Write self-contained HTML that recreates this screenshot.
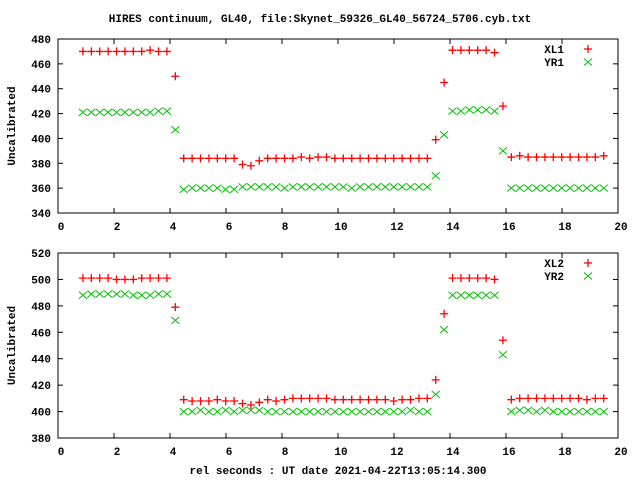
<!DOCTYPE html>
<html><head><meta charset="utf-8"><style>
html,body{margin:0;padding:0;background:#fff;}
svg text{font-family:"Liberation Mono",monospace;font-weight:bold;font-size:11px;fill:#000;}
</style></head><body>
<svg id="chart" width="640" height="480" xmlns="http://www.w3.org/2000/svg">
<rect width="640" height="480" fill="#fff"/>
<text x="320" y="22" text-anchor="middle">HIRES continuum, GL40, file:Skynet_59326_GL40_56724_5706.cyb.txt</text>
<text x="338" y="474" text-anchor="middle">rel seconds : UT date 2021-04-22T13:05:14.300</text>
<g id="g1"></g><g id="g2"></g>
</svg>
<script>
const times=[0.89,1.19,1.49,1.79,2.09,2.39,2.69,2.99,3.29,3.59,3.89,4.19,4.49,4.79,5.09,5.39,5.69,5.99,6.29,6.59,6.89,7.19,7.49,7.79,8.09,8.39,8.69,8.99,9.29,9.59,9.89,10.19,10.49,10.79,11.09,11.39,11.69,11.99,12.29,12.59,12.89,13.19,13.49,13.79,14.09,14.39,14.69,14.99,15.29,15.59,15.89,16.19,16.49,16.79,17.09,17.39,17.69,17.99,18.29,18.59,18.89,19.19,19.49];
const xl1=[470,470,470,470,470,470,470,470,471,470,470,450,384,384,384,384,384,384,384,379,378,382,384,384,384,384,385,384,385,385,384,384,384,384,384,384,384,384,384,384,384,384,399,445,471,471,471,471,471,469,426,385,386,385,385,385,385,385,385,385,385,385,386];
const yr1=[421,421,421,421,421,421,421,421,421,422,422,407,359,360,360,360,360,359,359,361,361,361,361,361,360,361,361,361,361,361,361,361,360,361,361,361,361,361,361,361,361,361,370,403,422,422,423,423,423,422,390,360,360,360,360,360,360,360,360,360,360,360,360];
const xl2=[501,501,501,501,500,500,500,501,501,501,501,479,409,408,408,408,409,408,408,406,405,407,409,408,409,410,410,410,410,410,409,409,409,409,409,409,409,408,409,409,410,410,424,474,501,501,501,501,501,500,454,409,410,410,410,410,410,410,410,410,409,410,410];
const yr2=[488,489,489,489,489,489,488,488,488,489,489,469,400,400,401,400,400,401,400,401,401,401,400,400,400,400,400,400,400,400,400,400,400,400,400,400,400,400,400,401,400,400,413,462,488,488,488,488,488,488,443,400,401,401,400,401,400,400,400,400,400,400,400];
const xTicks=[0,2,4,6,8,10,12,14,16,18,20];
const yTicks1=[340,360,380,400,420,440,460,480];
const yTicks2=[380,400,420,440,460,480,500,520];
const NS="http://www.w3.org/2000/svg";
function mk(parent,tag,attrs){const e=document.createElementNS(NS,tag);for(const k in attrs)e.setAttribute(k,attrs[k]);parent.appendChild(e);return e;}
function panel(g,top,bot,yT,s1,s2,n1,n2){
  const L=58,R=618;
  const ymin=yT[0],ymax=yT[yT.length-1];
  const xs=v=>L+(v-0)/(20-0)*(R-L);
  const ys=v=>bot-(v-ymin)/(ymax-ymin)*(bot-top);
  const fr=mk(g,'rect',{x:L,y:top,width:R-L,height:bot-top,fill:'none',stroke:'#000','stroke-width':1});
  
  
  xTicks.forEach(t=>{const x=xs(t);
    mk(g,'line',{x1:x,y1:bot,x2:x,y2:bot-5,stroke:'#000'});
    mk(g,'line',{x1:x,y1:top,x2:x,y2:top+5,stroke:'#000'});
    const tx=mk(g,'text',{x:x+3,y:bot+17,'text-anchor':'middle'});tx.textContent=t;
    
    
  });
  yT.forEach(t=>{const y=ys(t);
    mk(g,'line',{x1:L,y1:y,x2:L+5,y2:y,stroke:'#000'});
    mk(g,'line',{x1:R,y1:y,x2:R-5,y2:y,stroke:'#000'});
    const tx=mk(g,'text',{x:51,y:y+4,'text-anchor':'end'});tx.textContent=t;
    
    
  });
  const yt=mk(g,'text',{x:0,y:0,'text-anchor':'middle',transform:`translate(15,${(top+bot)/2}) rotate(-90)`});
  yt.textContent='Uncalibrated';
  
  
  function plus(x,y,name){const p=mk(g,'path',{d:`M${x-4},${y}h8M${x},${y-4}v8`,stroke:'#ff0000','stroke-width':1.3,fill:'none'});
    
    }
  function cross(x,y,name){const p=mk(g,'path',{d:`M${x-4},${y-3.5}l8,7M${x-4},${y+3.5}l8,-7`,stroke:'#00c000','stroke-width':1,fill:'none'});
    
    }
  times.forEach((t,i)=>{plus(xs(t),ys(s1[i]),'point-'+n1.toLowerCase());cross(xs(t),ys(s2[i]),'point-'+n2.toLowerCase());});
  const l1=mk(g,'text',{x:564,y:top+14,'text-anchor':'end'});l1.textContent=n1;
  
  
  const l2=mk(g,'text',{x:564,y:top+27,'text-anchor':'end'});l2.textContent=n2;
  
  
  plus(588,top+10,'legend-marker');cross(588,top+23,'legend-marker');
}
panel(document.getElementById('g1'),39,213,yTicks1,xl1,yr1,'XL1','YR1');
panel(document.getElementById('g2'),253,438,yTicks2,xl2,yr2,'XL2','YR2');
</script>
</body></html>
